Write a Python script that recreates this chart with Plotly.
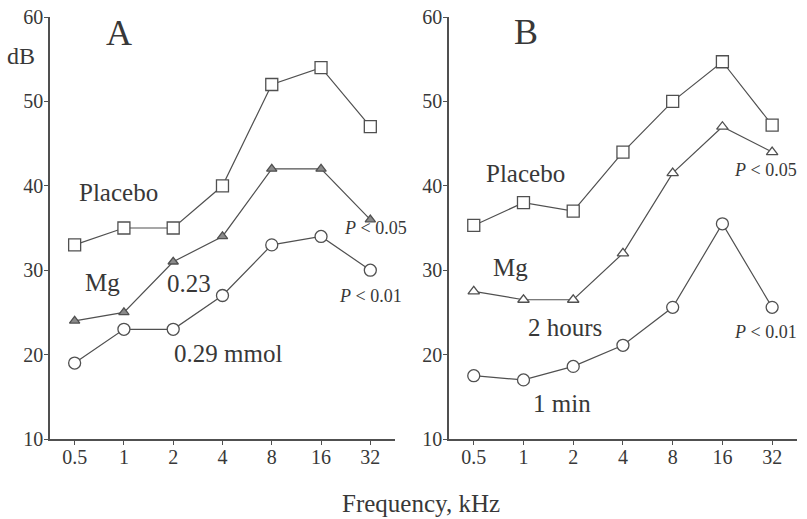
import plotly.graph_objects as go

freqs = ["0.5", "1", "2", "4", "8", "16", "32"]

# Panel A
a_placebo = [33, 35, 35, 40, 52, 54, 47]
a_mg023 = [24, 25, 31, 34, 42, 42, 36]
a_mg029 = [19, 23, 23, 27, 33, 34, 30]

# Panel B
b_placebo = [35.3, 38, 37, 44, 50, 54.7, 47.2]
b_mg2h = [27.5, 26.5, 26.5, 32, 41.5, 47, 44]
b_mg1min = [17.5, 17, 18.6, 21.1, 25.6, 35.5, 25.6]

y_ticks = [10, 20, 30, 40, 50, 60]

LINE = "#505050"
TEXT = "#383838"
FONT = "Liberation Serif"

fig = go.Figure()

def add(x, y, sym, fill, size, xa, ya):
    fig.add_trace(go.Scatter(
        x=x, y=y, mode="lines+markers", xaxis=xa, yaxis=ya,
        line=dict(color=LINE, width=1.2),
        marker=dict(symbol=sym, size=size, color=fill,
                    line=dict(color=LINE, width=1.3)),
        cliponaxis=False, showlegend=False))

add(freqs, a_placebo, "square", "white", 12, "x", "y")
add(freqs, a_mg023, "triangle-up", "#8a8a8a", 9, "x", "y")
add(freqs, a_mg029, "circle", "white", 12, "x", "y")
add(freqs, b_placebo, "square", "white", 12, "x2", "y2")
add(freqs, b_mg2h, "triangle-up", "white", 10, "x2", "y2")
add(freqs, b_mg1min, "circle", "white", 12, "x2", "y2")

ax_common = dict(
    showline=True, linecolor=LINE, linewidth=1.5, showgrid=False, zeroline=False,
    ticks="outside", ticklen=4, tickcolor=LINE, mirror=False,
    ticklabeloverflow="allow", automargin=False,
    tickfont=dict(family=FONT, size=20, color=TEXT),
)

fig.update_layout(
    width=807, height=519,
    margin=dict(l=50, r=10, t=17, b=80, autoexpand=False),
    paper_bgcolor="white", plot_bgcolor="white",
    font=dict(family=FONT, color=TEXT),
    xaxis=dict(domain=[0, 0.4618], type="category", range=[-0.5, 6.5],
               categoryorder="array", categoryarray=freqs,
               ticklabelstandoff=-5, **ax_common),
    xaxis2=dict(domain=[0.534, 1], type="category", range=[-0.5, 6.5],
                categoryorder="array", categoryarray=freqs, anchor="y2",
                ticklabelstandoff=-5, **ax_common),
    yaxis=dict(range=[10, 60], tickvals=y_ticks, anchor="x",
               ticklabelstandoff=-3, **ax_common),
    yaxis2=dict(range=[10, 60], tickvals=y_ticks, anchor="x2",
                ticklabelstandoff=-3, **ax_common),
)

def ann(text, x, y, xref, yref, size, xanchor="center"):
    fig.add_annotation(text=text, x=x, y=y, xref=xref, yref=yref, showarrow=False,
                       xanchor=xanchor, yanchor="middle",
                       font=dict(family=FONT, size=size, color=TEXT))

# Panel A labels
ann("A", 0.89, 58.1, "x", "y", 36)
ann("Placebo", 0.89, 39.2, "x", "y", 25)
ann("Mg", 0.57, 28.5, "x", "y", 25)
ann("0.23", 2.33, 28.4, "x", "y", 25)
ann("0.29 mmol", 3.12, 20.1, "x", "y", 25)
ann("<i>P</i> < 0.05", 5.42, 35.05, "x", "y", 18, "left")
ann("<i>P</i> < 0.01", 5.33, 27.0, "x", "y", 18, "left")

# Panel B labels
ann("B", 1.05, 58.2, "x2", "y2", 36)
ann("Placebo", 1.05, 41.5, "x2", "y2", 25)
ann("<i>P</i> < 0.05", 5.2, 41.9, "x2", "y2", 18, "left")
ann("Mg", 0.74, 30.3, "x2", "y2", 25)
ann("2 hours", 1.83, 23.2, "x2", "y2", 25)
ann("<i>P</i> < 0.01", 5.2, 22.7, "x2", "y2", 18, "left")
ann("1 min", 1.77, 14.2, "x2", "y2", 25)

# Axis titles
ann("dB", -0.039, 0.908, "paper", "paper", 24)
ann("Frequency, kHz", 0.497, -0.152, "paper", "paper", 25)

fig.write_html(
    "out.html",
    config={"displayModeBar": False},
    post_script="document.body.style.margin='0';document.body.style.overflow='hidden';",
)
